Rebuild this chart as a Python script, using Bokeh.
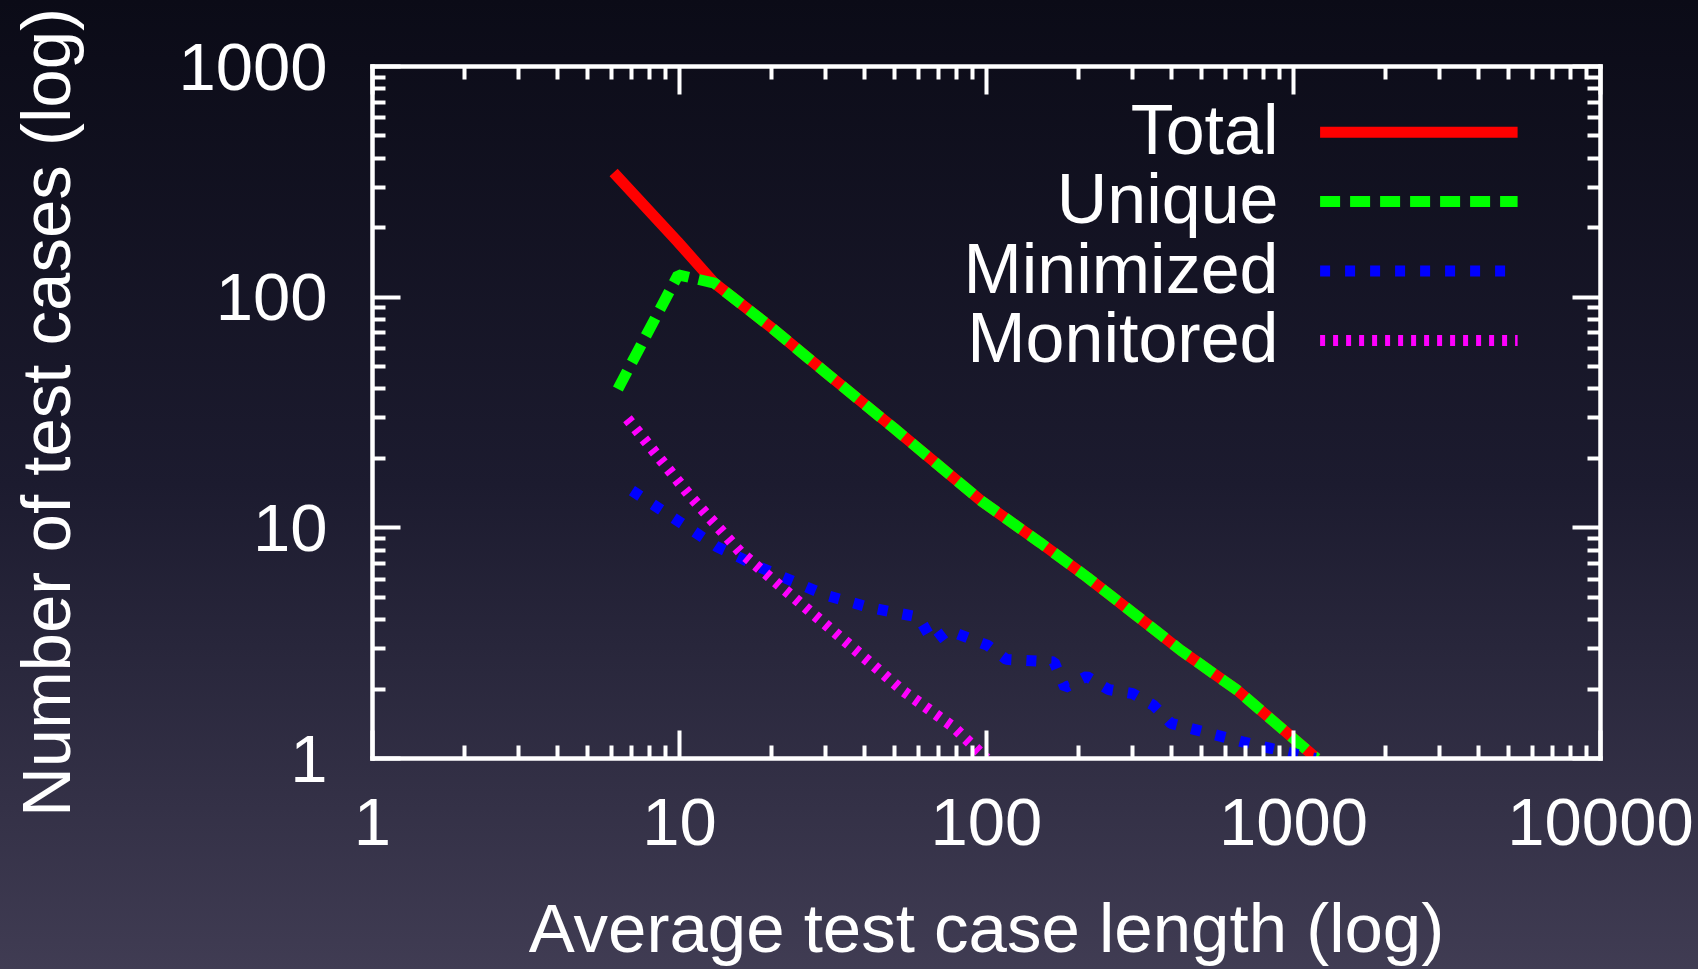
from bokeh.plotting import figure
from bokeh.models import (LogAxis, FixedTicker, CustomJSTickFormatter, Label, Arrow,
                          Range1d, GlobalInlineStyleSheet)
from bokeh.embed import file_html
from bokeh.resources import INLINE

# ---------------- data ----------------
series_names = ["Total", "Unique", "Minimized", "Monitored"]

total_x = [6.1, 9.9, 13, 20, 30, 50, 96, 150, 213, 302, 430, 658, 1190]
total_y = [347, 173, 115, 73.5, 47, 27, 13.1, 8.6, 6.1, 4.25, 2.94, 1.97, 1.0]

unique_x = [6.3, 9.9, 13, 20, 30, 50, 96, 150, 213, 302, 430, 658, 1190]
unique_y = [40, 125, 115, 73.5, 47, 27, 13.1, 8.6, 6.1, 4.25, 2.94, 1.97, 1.0]

minimized_x = [7.0, 13.2, 18.7, 30, 42, 60, 67, 75, 101, 116, 166, 180, 212, 250, 300, 350, 399, 683, 1180]
minimized_y = [14.5, 8.3, 6.66, 5.1, 4.5, 4.1, 3.2, 3.6, 3.09, 2.69, 2.62, 2.03, 2.27, 1.99, 1.91, 1.7, 1.42, 1.18, 1.0]

monitored_x = [6.77, 10.9, 15.8, 34.4, 53.3, 78, 100]
monitored_y = [29.7, 13.6, 7.84, 3.25, 1.97, 1.37, 1.0]

x_tick_values = [1, 10, 100, 1000, 10000]
x_tick_labels = ["1", "10", "100", "1000", "10000"]
y_tick_values = [1, 10, 100, 1000]
y_tick_labels = ["1", "10", "100", "1000"]

x_title = "Average test case length (log)"
y_title = "Number of test cases (log)"

# ---------------- style ----------------
FONT = "Liberation Sans"
FS_TICK = "67px"
FS_TITLE = "69px"
FS_KEY = "70px"
W, H = 1698, 969
colors = ["#ff0000", "#00ff00", "#0000ff", "#ff00ff"]
dashes = ["solid", "20 10", "10 15", "5 8"]
LW = 11

bg_css = ("html { height: 100%; background: linear-gradient(to bottom, #0b0b17 0%, "
          "#1c1b2f 50%, #403c53 100%); } body { background: transparent; }")

p = figure(width=W, height=H, x_axis_type="log", y_axis_type="log",
           x_range=Range1d(1, 10000), y_range=Range1d(1, 1000),
           output_backend="svg", toolbar_location=None,
           min_border_left=372, min_border_right=98, min_border_top=66, min_border_bottom=211)
p.stylesheets = [GlobalInlineStyleSheet(css=bg_css)]
p.background_fill_color = None
p.border_fill_color = None
p.outline_line_color = None
p.xgrid.visible = False
p.ygrid.visible = False

x_minor = [m * d for d in x_tick_values[:-1] for m in range(2, 10)]
y_minor = [m * d for d in y_tick_values[:-1] for m in range(2, 10)]

label_code = "const i = tv.indexOf(tick); return i >= 0 ? tl[i] : '';"


def style_axis(ax, ticks, minor, labels):
    ax.ticker = FixedTicker(ticks=ticks, minor_ticks=minor)
    ax.axis_line_color = "white"
    ax.axis_line_width = 4.5
    ax.axis_line_cap = "square"
    ax.major_tick_line_color = "white"
    ax.major_tick_line_width = 4
    ax.major_tick_in = 28
    ax.major_tick_out = 0
    ax.minor_tick_line_color = "white"
    ax.minor_tick_line_width = 4
    ax.minor_tick_in = 13
    ax.minor_tick_out = 0
    ax.major_label_text_font = FONT
    ax.major_label_text_color = "white"
    if labels is None:
        ax.formatter = CustomJSTickFormatter(code="return '';")
        ax.major_label_text_font_size = "1px"
        ax.major_label_standoff = 0
    else:
        ax.formatter = CustomJSTickFormatter(args=dict(tv=ticks, tl=labels), code=label_code)
        ax.major_label_text_font_size = FS_TICK
    ax.axis_label_text_font = FONT
    ax.axis_label_text_font_size = FS_TITLE
    ax.axis_label_text_font_style = "normal"
    ax.axis_label_text_color = "white"


xb = p.xaxis[0]
yl = p.yaxis[0]
style_axis(xb, x_tick_values, x_minor, x_tick_labels)
style_axis(yl, y_tick_values, y_minor, y_tick_labels)
xb.major_label_standoff = 40
yl.major_label_standoff = 45
xb.axis_label = x_title
xb.axis_label_standoff = 42
yl.axis_label = y_title
yl.axis_label_standoff = 90

xa = LogAxis()
yr = LogAxis()
style_axis(xa, x_tick_values, x_minor, None)
style_axis(yr, y_tick_values, y_minor, None)
p.add_layout(xa, "above")
p.add_layout(yr, "right")

# ---------------- series ----------------
series = [(total_x, total_y), (unique_x, unique_y),
          (minimized_x, minimized_y), (monitored_x, monitored_y)]
for (xs, ys), c, d in zip(series, colors, dashes):
    p.line(xs, ys, line_color=c, line_width=LW, line_dash=d)

# ---------------- key (gnuplot style: text then sample) ----------------
KEY_TX = 906.0      # right edge of key text (px from frame left)
KEY_X0, KEY_X1 = 947.6, 1145.1
KEY_Y0 = 626.3      # first sample line (px from frame bottom)
KEY_STEP = 69.4
KEY_TDY = -2.3
for i, (name, c, d) in enumerate(zip(series_names, colors, dashes)):
    ly = KEY_Y0 - i * KEY_STEP
    p.add_layout(Label(x=KEY_TX, y=ly - KEY_TDY, x_units="screen", y_units="screen",
                       text=name, text_align="right", text_baseline="alphabetic",
                       text_font=FONT, text_font_size=FS_KEY, text_color="white"))
    p.add_layout(Arrow(end=None, x_start=KEY_X0, y_start=ly, x_end=KEY_X1, y_end=ly,
                       start_units="screen", end_units="screen",
                       line_color=c, line_width=LW, line_dash=d))

open("out.html", "w").write(file_html(p, INLINE))
